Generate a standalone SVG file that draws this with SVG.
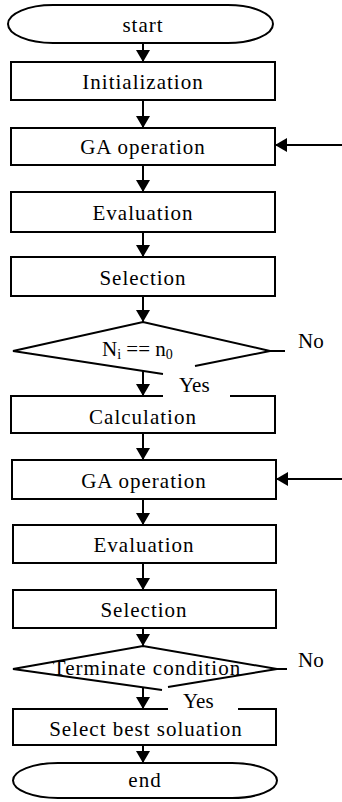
<svg xmlns="http://www.w3.org/2000/svg" width="342" height="802" viewBox="0 0 342 802">
<style>
.shape{fill:#fff;stroke:#000;stroke-width:2}
.open{fill:none;stroke:#000;stroke-width:2}
.t{font-family:"Liberation Serif","Times New Roman",serif;font-size:21px;letter-spacing:1px;fill:#000;text-anchor:middle}
.l{font-family:"Liberation Serif","Times New Roman",serif;font-size:21px;fill:#000}
.c{fill:none;stroke:#000;stroke-width:2}
</style>
<defs>
<marker id="ah" viewBox="0 0 12 14" refX="12" refY="7" markerWidth="12" markerHeight="14" orient="auto" markerUnits="userSpaceOnUse">
<path d="M0,0 L12,7 L0,14 z" fill="#000"/>
</marker>
</defs>
<rect width="342" height="802" fill="#fff"/>
<g id="connectors">
<line class="c" x1="143" y1="43" x2="143" y2="62" marker-end="url(#ah)"/>
<line class="c" x1="143" y1="100" x2="143" y2="128" marker-end="url(#ah)"/>
<line class="c" x1="143" y1="165" x2="143" y2="192" marker-end="url(#ah)"/>
<line class="c" x1="143" y1="232" x2="143" y2="257" marker-end="url(#ah)"/>
<line class="c" x1="143" y1="296" x2="143" y2="322" marker-end="url(#ah)"/>
<line class="c" x1="143" y1="370" x2="143" y2="396" marker-end="url(#ah)"/>
<line class="c" x1="143" y1="433" x2="143" y2="460" marker-end="url(#ah)"/>
<line class="c" x1="143" y1="499" x2="143" y2="525" marker-end="url(#ah)"/>
<line class="c" x1="143" y1="563" x2="143" y2="590" marker-end="url(#ah)"/>
<line class="c" x1="143" y1="628" x2="143" y2="646" marker-end="url(#ah)"/>
<line class="c" x1="143" y1="688" x2="143" y2="709" marker-end="url(#ah)"/>
<line class="c" x1="143" y1="745" x2="143" y2="763" marker-end="url(#ah)"/>
<line class="c" x1="342" y1="145" x2="275" y2="145" marker-end="url(#ah)"/>
<line class="c" x1="342" y1="479" x2="276" y2="479" marker-end="url(#ah)"/>
<line class="c" x1="270" y1="351" x2="285" y2="351"/>
<line class="c" x1="277" y1="669" x2="287" y2="669"/>
</g>
<g id="start">
<rect class="shape" x="8" y="5" width="265" height="38" rx="45" ry="19"/>
<text class="t" x="143" y="32">start</text>
</g>
<g id="init">
<rect class="shape" x="11" y="62" width="264" height="38"/>
<text class="t" x="143" y="89">Initialization</text>
</g>
<g id="ga1">
<rect class="shape" x="11" y="128" width="264" height="37"/>
<text class="t" x="143" y="154">GA operation</text>
</g>
<g id="eval1">
<rect class="shape" x="11" y="192" width="264" height="40"/>
<text class="t" x="143" y="220">Evaluation</text>
</g>
<g id="sel1">
<rect class="shape" x="11" y="257" width="264" height="39"/>
<text class="t" x="143" y="285">Selection</text>
</g>
<g id="dec1">
<path class="open" d="M163,374 L13,351 L143,322 L270,351 L195,366"/>
<text class="l" x="102" y="356">N<tspan font-size="14" dy="3">i</tspan><tspan dy="-3"> == n</tspan><tspan font-size="14" dy="3">0</tspan></text>
<text class="l" x="298" y="348">No</text>
<text class="l" x="179" y="392">Yes</text>
</g>
<g id="calc">
<path class="open" d="M163,396 H11 V433 H275 V396 H230"/>
<text class="t" x="143" y="424">Calculation</text>
</g>
<g id="ga2">
<rect class="shape" x="12" y="460" width="264" height="39"/>
<text class="t" x="144" y="488">GA operation</text>
</g>
<g id="eval2">
<rect class="shape" x="13" y="525" width="263" height="38"/>
<text class="t" x="144" y="552">Evaluation</text>
</g>
<g id="sel2">
<rect class="shape" x="13" y="590" width="263" height="38"/>
<text class="t" x="144" y="617">Selection</text>
</g>
<g id="dec2">
<path class="open" d="M162,690 L13,669 L143,646 L277,669 L168,687"/>
<text class="t" x="147" y="675">Terminate condition</text>
<text class="l" x="298" y="667">No</text>
<text class="l" x="183" y="708">Yes</text>
</g>
<g id="best">
<path class="open" d="M168,709 H13 V745 H276 V709 H238"/>
<text class="t" x="146" y="736">Select best soluation</text>
</g>
<g id="end">
<rect class="shape" x="13" y="763" width="264" height="35" rx="45" ry="17.5"/>
<text class="t" x="145" y="787">end</text>
</g>
</svg>
